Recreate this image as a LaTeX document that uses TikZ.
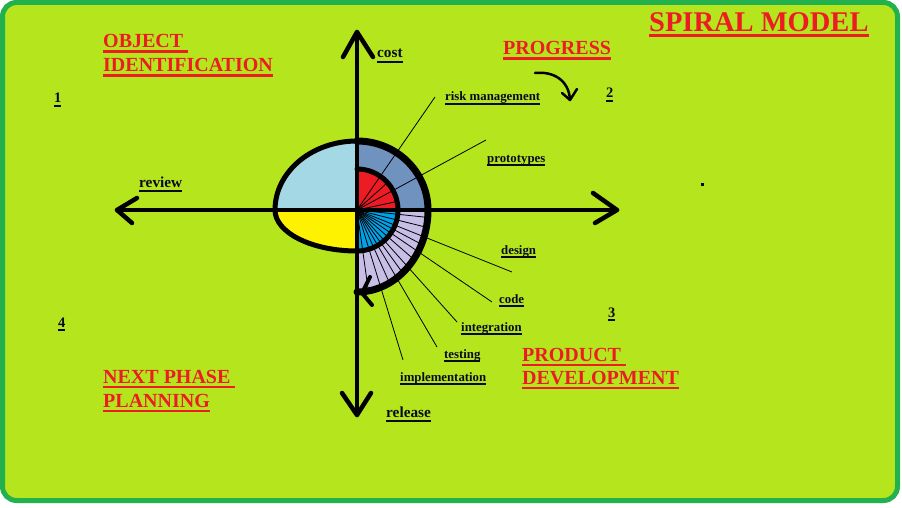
\documentclass[tikz,border=0pt]{standalone}
\usepackage{fontspec}
\setmainfont{Liberation Serif}
\definecolor{lime}{HTML}{B5E61D}
\definecolor{frame}{HTML}{22B14C}
\definecolor{headred}{HTML}{ED1C24}
\definecolor{lblue}{HTML}{A3D8E4}
\definecolor{yel}{HTML}{FFF200}
\definecolor{steel}{HTML}{7092BE}
\definecolor{sred}{HTML}{ED1C24}
\definecolor{sblue}{HTML}{00A2E8}
\definecolor{lav}{HTML}{C8BFE7}
\definecolor{ink}{HTML}{0A0A1E}
\newcommand\ulx[4]{\setbox0=\hbox{#4}\rlap{\color{#1}\vrule height -#3 depth \dimexpr #3+#2\relax width \wd0}\box0}
\tikzset{
  axisline/.style={line width=4.5, line cap=round, line join=round},
  spoke/.style={line width=0.8, black},
  heading/.style={anchor=base west, inner sep=0, text=headred, font=\bfseries\fontsize{20}{24}\selectfont},
  lbl/.style={anchor=base west, inner sep=0, text=ink, font=\bfseries\fontsize{12.8}{15}\selectfont},
  axlbl/.style={lbl, font=\bfseries\fontsize{15.3}{18}\selectfont},
  num/.style={anchor=base west, inner sep=0, text=ink, font=\bfseries\fontsize{14.5}{17}\selectfont},
  outline/.style={line width=5, line cap=round},
}
\begin{document}
\begin{tikzpicture}[x=1pt,y=-1pt]
\useasboundingbox (0,0) rectangle (902,508);
\fill[white] (0,0) rectangle (902,508);
\draw[line width=5, draw=frame, fill=lime, rounded corners=14] (2.5,2.5) rectangle (897.5,500.5);

% centre and leader ends
\coordinate (c) at (357,210);
\coordinate (lrisk) at (435,97);
\coordinate (lproto) at (486,140);
\coordinate (ldesign) at (512,272);
\coordinate (lcode) at (492,302);
\coordinate (linteg) at (457,322);
\coordinate (ltest) at (437,347);
\coordinate (limpl) at (403,360);

% fills
\fill[lblue] (c) -- (357,141) arc[start angle=-90, end angle=-180, x radius=82, y radius=69] -- cycle;
\fill[yel] (c) -- (275,210) arc[start angle=180, end angle=90, x radius=82, y radius=41] -- cycle;
\fill[steel] (357,141) arc[start angle=-90, end angle=0, x radius=71, y radius=69] -- (398,210) arc[start angle=0, end angle=-90, radius=41] -- cycle;
\fill[lav] (428,210) arc[start angle=0, end angle=90, x radius=71, y radius=82] -- (357,251) arc[start angle=90, end angle=0, radius=41] -- cycle;
\fill[sred] (c) -- (357,169) arc[start angle=-90, end angle=0, radius=41] -- cycle;
\fill[sblue] (c) -- (398,210) arc[start angle=0, end angle=90, radius=41] -- cycle;

% spokes
\begin{scope}
\clip (c) -- (357,169) arc[start angle=-90, end angle=0, radius=41] -- cycle;
\foreach \a in {-12,-42} \draw[spoke] (c) -- ++(\a:80);
\end{scope}
\begin{scope}
\clip (c) -- (428,210) arc[start angle=0, end angle=90, x radius=71, y radius=82] -- cycle;
\foreach \a in {6,14,28,41,54,66,82} \draw[spoke] (c) -- ++(\a:120);
\end{scope}
\foreach \e in {lrisk,lproto,ldesign,lcode,linteg,ltest,limpl} \draw[spoke] (c) -- (\e);

% outlines
\draw[outline] (357,141) arc[start angle=-90, end angle=-180, x radius=82, y radius=69]
  arc[start angle=180, end angle=90, x radius=82, y radius=41]
  arc[start angle=90, end angle=-90, radius=41];
\draw[outline, line width=7] (357,141) arc[start angle=-90, end angle=0, x radius=71, y radius=69]
  arc[start angle=0, end angle=90, x radius=71, y radius=82];
\coordinate (sptip) at (362,293);
\coordinate (spa1) at (370,277);
\coordinate (spa2) at (372,305);
\draw[line width=4, line cap=round, line join=round] (spa1) -- (sptip) -- (spa2);

% axes
\coordinate (ntop) at (357,32);
\coordinate (nbot) at (357,415);
\coordinate (nleft) at (117,210);
\coordinate (nright) at (617,210);
\draw[axisline] (ntop) -- (nbot);
\draw[axisline] (nleft) -- (nright);
\draw[axisline] (343,57) -- (ntop) -- (373,57);
\draw[axisline] (342,393) -- (nbot) -- (371,393);
\draw[axisline] (137,198) -- (nleft) -- (132,223);
\draw[axisline] (593,193) -- (nright) -- (595,223);

% progress arrow
\coordinate (pa1) at (535,73);
\coordinate (pa2) at (570,100);
\draw[line width=2.5, line cap=round] (pa1) .. controls (553,71) and (569,80) .. (pa2);
\draw[line width=2.5, line cap=round, line join=round] (562,93) -- (pa2) -- (577,89);

% small dot
\fill[black] (701,183) rectangle (704,186);

% headings
\node[heading, font=\bfseries\fontsize{28.5}{32}\selectfont] (title) at (649,32) {\ulx{headred}{3pt}{2.5pt}{SPIRAL MODEL}};
\node[heading] (obj1) at (103,48) {\ulx{headred}{2.8pt}{2.5pt}{OBJECT\ }};
\node[heading] (obj2) at (103,72) {\ulx{headred}{2.8pt}{2.5pt}{IDENTIFICATION}};
\node[heading] (prog) at (503,55) {\ulx{headred}{2.8pt}{2.5pt}{PROGRESS}};
\node[heading] (next1) at (103,383) {\ulx{headred}{2.8pt}{2.5pt}{NEXT PHASE\ }};
\node[heading] (next2) at (103,407) {\ulx{headred}{2.8pt}{2.5pt}{PLANNING}};
\node[heading] (prod1) at (522,361) {\ulx{headred}{2.8pt}{2.5pt}{PRODUCT\ }};
\node[heading] (prod2) at (522,384) {\ulx{headred}{2.8pt}{2.5pt}{DEVELOPMENT}};

% labels
\node[axlbl] (tcost) at (377,58) {\ulx{ink}{1.8pt}{3pt}{cost}};
\node[axlbl] (treview) at (139,187) {\ulx{ink}{1.8pt}{3pt}{review}};
\node[axlbl] (trelease) at (386,417) {\ulx{ink}{1.8pt}{3pt}{release}};
\node[lbl] (trisk) at (445,101) {\ulx{ink}{1.6pt}{2pt}{risk management}};
\node[lbl] (tproto) at (487,162) {\ulx{ink}{1.6pt}{2pt}{prototypes}};
\node[lbl] (tdesign) at (501,254) {\ulx{ink}{1.6pt}{2pt}{design}};
\node[lbl] (tcode) at (499,303) {\ulx{ink}{1.6pt}{2pt}{code}};
\node[lbl] (tinteg) at (461,331) {\ulx{ink}{1.6pt}{2pt}{integration}};
\node[lbl] (ttest) at (444,358) {\ulx{ink}{1.6pt}{2pt}{testing}};
\node[lbl] (timpl) at (400,381) {\ulx{ink}{1.6pt}{2pt}{implementation}};

% quadrant numbers
\node[num] (n1) at (54,103) {\ulx{ink}{2pt}{2pt}{1}};
\node[num] (n2) at (606,98) {\ulx{ink}{2pt}{2pt}{2}};
\node[num] (n3) at (608,317) {\ulx{ink}{2pt}{2pt}{3}};
\node[num] (n4) at (58,327) {\ulx{ink}{2pt}{2pt}{4}};
\end{tikzpicture}
\end{document}
